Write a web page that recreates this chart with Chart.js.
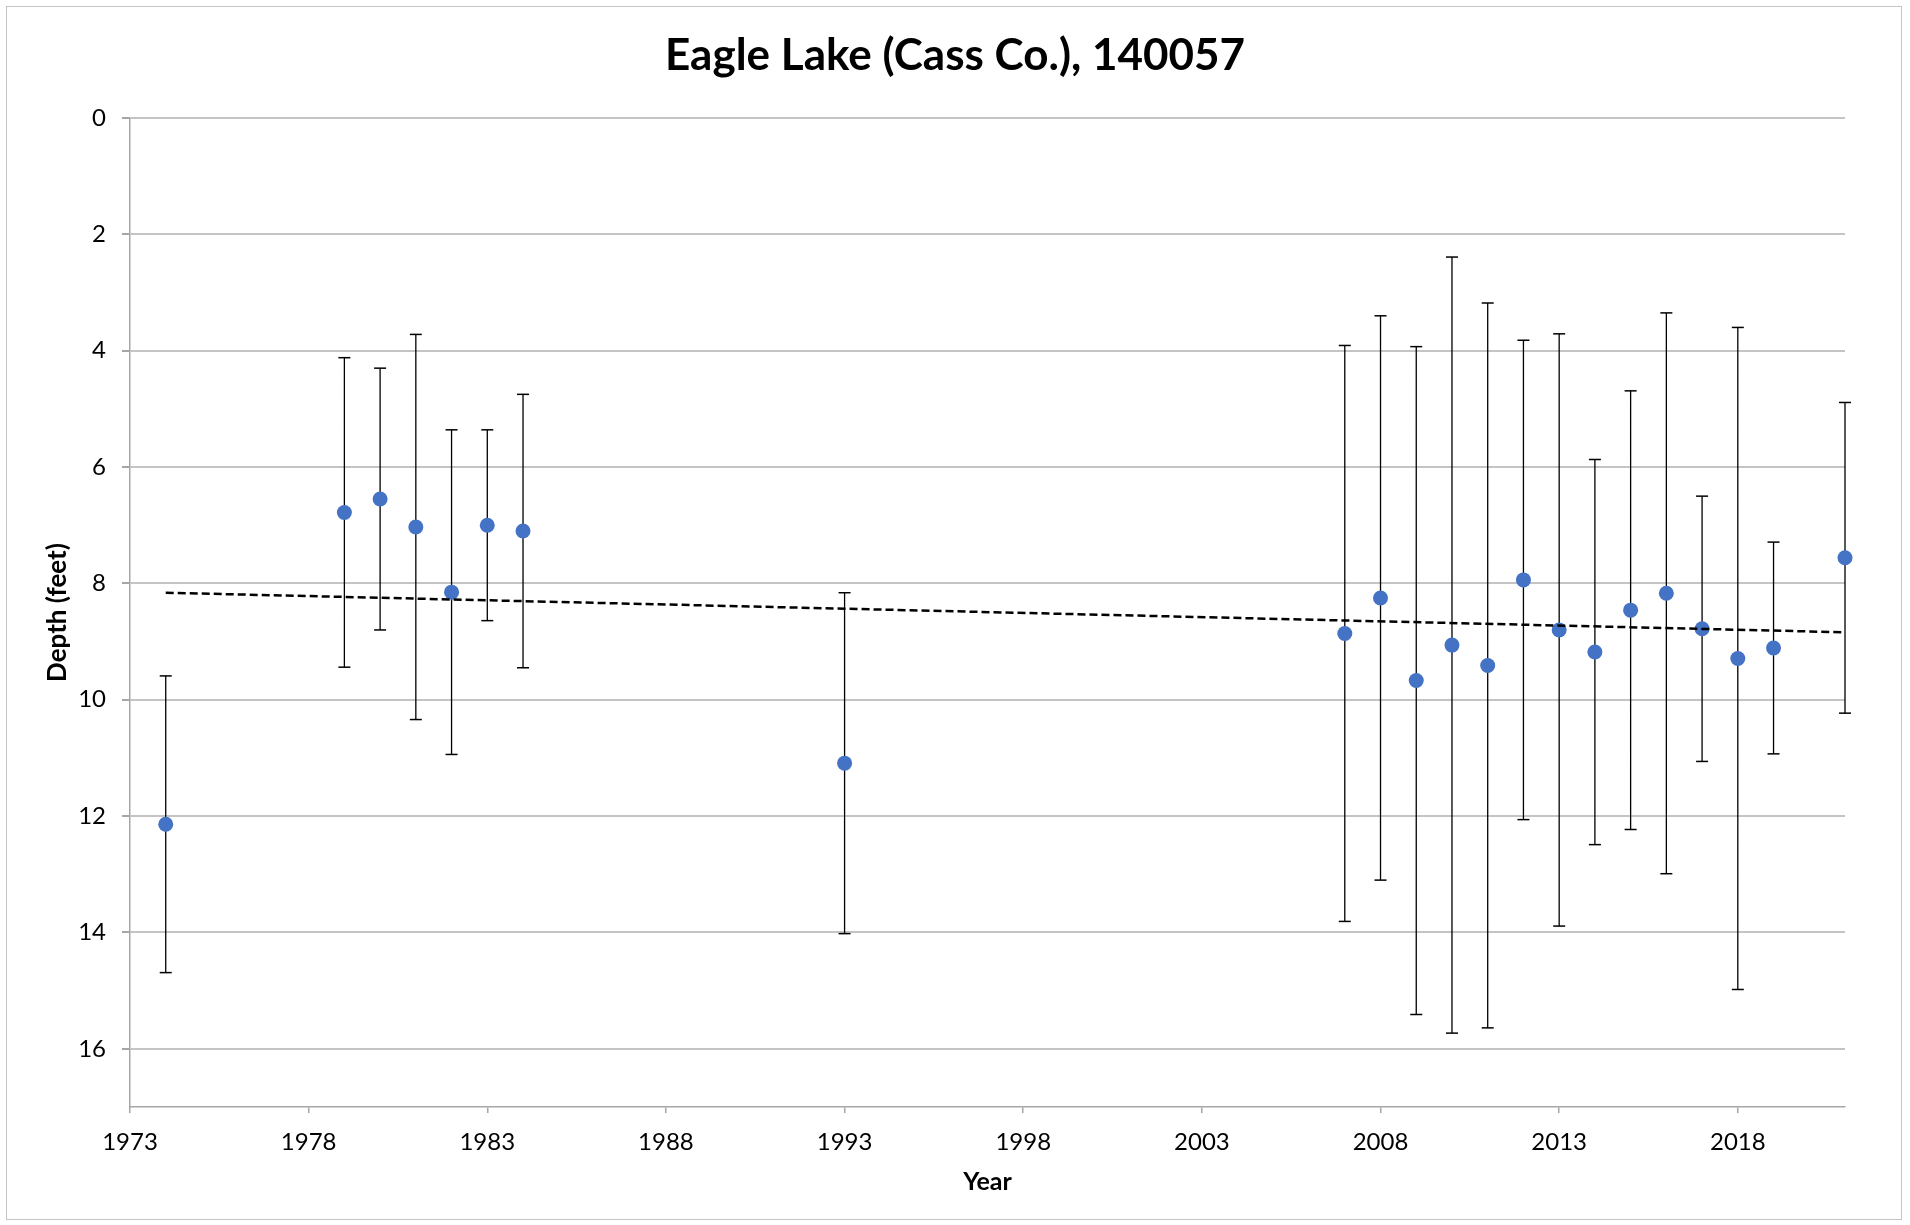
<!DOCTYPE html>
<html>
<head>
<meta charset="utf-8">
<title>Eagle Lake (Cass Co.), 140057</title>
<script src="https://cdn.jsdelivr.net/npm/chart.js@4.4.1/dist/chart.umd.min.js"></script>
<style>
    html, body { margin: 0; padding: 0; background: #fff; }
    #wrap { position: relative; width: 1910px; height: 1225px; }
    #frame {
        position: absolute; left: 6px; top: 6px; width: 1894px; height: 1212px;
        border: 1.5px solid #c4c4c4; pointer-events: none;
    }
</style>
</head>
<body>
<div id="wrap">
    <canvas id="depthChart" width="1910" height="1225"></canvas>
    <div id="frame"></div>
</div>
<script>

// survey years and mean depth (feet), with +/- error
const years = [1974, 1979, 1980, 1981, 1982, 1983, 1984, 1993,
    2007, 2008, 2009, 2010, 2011, 2012, 2013, 2014, 2015, 2016, 2017, 2018, 2019, 2021];
const depth = [12.14, 6.78, 6.55, 7.03, 8.15, 7.00, 7.10, 11.09,
    8.86, 8.25, 9.67, 9.06, 9.41, 7.94, 8.80, 9.18, 8.46, 8.17, 8.78, 9.29, 9.11, 7.56];
const errorFt = [2.55, 2.66, 2.25, 3.31, 2.79, 1.64, 2.35, 2.93,
    4.95, 4.85, 5.74, 6.67, 6.23, 4.12, 5.09, 3.31, 3.77, 4.82, 2.28, 5.69, 1.82, 2.67];

// linear trend end points
const trendYears = [1974, 2021];
const trendDepth = [8.16, 8.84];

// axis ticks
const xTicks = [1973, 1978, 1983, 1988, 1993, 1998, 2003, 2008, 2013, 2018];
const yTicks = [0, 2, 4, 6, 8, 10, 12, 14, 16];

const points = years.map((yr, i) => ({ x: yr, y: depth[i] }));

const errorBars = [];
years.forEach((yr, i) => {
    errorBars.push({ x: yr, y: depth[i] - errorFt[i] });
    errorBars.push({ x: yr, y: depth[i] + errorFt[i] });
    errorBars.push({ x: yr, y: null });
});

const trend = trendYears.map((yr, i) => ({ x: yr, y: trendDepth[i] }));

const ctx = document.getElementById("depthChart");

new Chart(ctx, {
    type: "scatter",
    data: {
        datasets: [
            {
                label: "Trend",
                type: "line",
                data: trend,
                borderColor: "#000",
                borderWidth: 2.5,
                borderDash: [8, 4],
                pointRadius: 0,
                fill: false,
                clip: false
            },
            {
                label: "Depth",
                data: points,
                backgroundColor: "#4472C4",
                borderColor: "#4472C4",
                borderWidth: 0,
                pointRadius: 7.5,
                clip: false
            },
            {
                label: "Error",
                type: "line",
                data: errorBars,
                borderColor: "#000",
                borderWidth: 1.3,
                spanGaps: false,
                pointStyle: "line",
                pointRadius: 6,
                pointBorderWidth: 1.5,
                pointBorderColor: "#000",
                fill: false,
                clip: false
            }
        ]
    },
    options: {
        responsive: false,
        animation: false,
        devicePixelRatio: 1,
        layout: {
            padding: 0
        },
        plugins: {
            legend: { display: false },
            tooltip: { enabled: false },
            title: {
                display: true,
                text: "Eagle Lake (Cass Co.), 140057",
                color: "#000",
                font: { family: "Lato", size: 44, weight: "bold", lineHeight: 1.2 },
                padding: { top: 29.1, bottom: 36.1 }
            }
        },
        scales: {
            x: {
                type: "linear",
                min: 1973,
                max: 2021,
                afterBuildTicks: (scale) => {
                    scale.ticks = xTicks.map(v => ({ value: v }));
                },
                afterFit: (scale) => { scale.height = 118; },
                grid: {
                    drawOnChartArea: false,
                    color: "#a6a6a6",
                    lineWidth: 1.5,
                    tickLength: 6
                },
                border: { display: true, color: "#a6a6a6", width: 1.5 },
                ticks: {
                    color: "#000",
                    padding: 14.6,
                    maxRotation: 0,
                    autoSkip: false,
                    font: { family: "Lato", size: 24 },
                    callback: (v) => String(v)
                },
                title: {
                    display: true,
                    text: "Year",
                    color: "#000",
                    font: { family: "Lato", size: 25, weight: "bold", lineHeight: 1.2 },
                    padding: { top: 0, bottom: 28 }
                }
            },
            y: {
                type: "linear",
                reverse: true,
                min: 0,
                max: 17,
                afterBuildTicks: (scale) => {
                    scale.ticks = yTicks.map(v => ({ value: v }));
                },
                afterFit: (scale) => { scale.width = 130; },
                grid: {
                    color: "#c4c4c4",
                    lineWidth: 2,
                    tickLength: 8,
                    tickColor: "#a6a6a6"
                },
                border: { display: true, color: "#a6a6a6", width: 1.5 },
                ticks: {
                    color: "#000",
                    padding: 16,
                    autoSkip: false,
                    font: { family: "Lato", size: 24 }
                },
                title: {
                    display: true,
                    text: "Depth (feet)",
                    color: "#000",
                    font: { family: "Lato", size: 26, weight: "bold", lineHeight: 1.2 },
                    padding: { top: 42.4, bottom: 0 }
                }
            },
            // empty right-hand strip so the title stays centred on the whole canvas
            yRight: {
                type: "linear",
                position: "right",
                min: 0,
                max: 17,
                afterFit: (scale) => { scale.width = 65; },
                grid: { display: false },
                border: { display: false },
                ticks: { display: false }
            }
        }
    }
});

</script>
</body>
</html>
